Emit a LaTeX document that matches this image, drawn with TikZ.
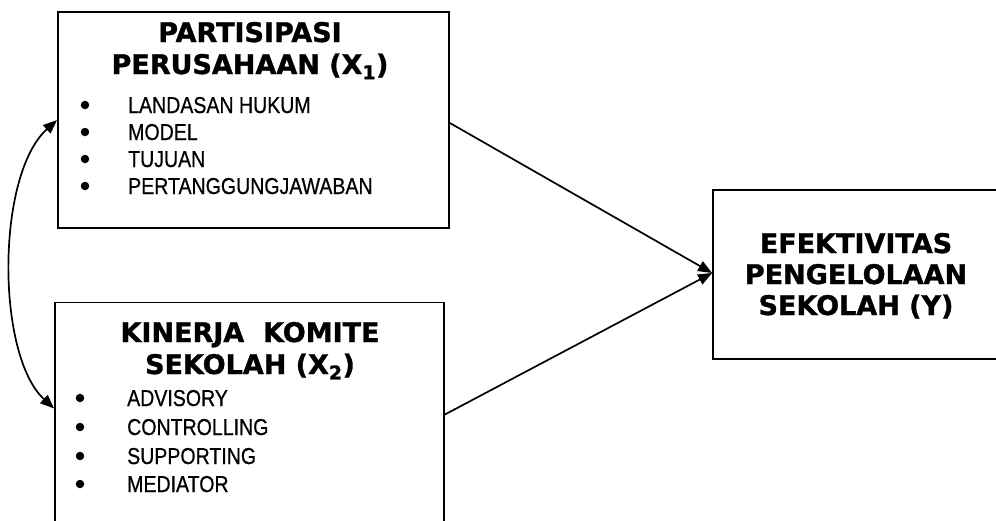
\documentclass[tikz,border=0pt]{standalone}
\usepackage{fontspec}
\setmainfont{Liberation Sans}
\newfontfamily\itemfont[FakeStretch=0.85,FakeBold=0.6]{Liberation Sans}
\newfontfamily\titlefont[FakeBold=1.2]{DejaVu Sans Bold}
\usetikzlibrary{arrows.meta}
\tikzset{
  box/.style={draw=black, line width=1.8, fill=none, inner sep=0},
  ttl/.style={font=\titlefont\fontsize{27}{31}\selectfont, anchor=base, inner sep=0},
  itm/.style={font=\itemfont\fontsize{23}{26}\selectfont, anchor=base west, inner sep=0},
  bul/.style={circle, fill=black, inner sep=0, minimum size=8.5},
  arr/.style={line width=1.7, -{Triangle[length=14,width=11]}},
  darr/.style={line width=1.7, {Triangle[length=14,width=11]}-{Triangle[length=14,width=11]}}
}
\begin{document}
\begin{tikzpicture}[x=1pt,y=-1pt]
\useasboundingbox (0,0) rectangle (996,520);
\fill[white] (0,0) rectangle (996,520);
\clip (0,0) rectangle (996,520);

% boxes
\node[box, minimum width=391, minimum height=216] (b1) at (253.5,120) {};
\node[box, minimum width=389, minimum height=240] (b2) at (249.5,422.5) {};
\node[box, minimum width=300, minimum height=169] (b3) at (863,274.5) {};

% box 1 text
\node[ttl] (t1a) at (250,42) {PARTISIPASI};
\node[ttl] (t1b) at (250,74) {PERUSAHAAN (X\textsubscript{1})};
\node[bul] (p1) at (85,105) {};
\node[bul] (p2) at (85,132) {};
\node[bul] (p3) at (85,159) {};
\node[bul] (p4) at (85,186) {};
\node[itm] (i1) at (128,113) {LANDASAN HUKUM};
\node[itm] (i2) at (128,140) {MODEL};
\node[itm] (i3) at (128,167) {TUJUAN};
\node[itm] (i4) at (128,194) {PERTANGGUNGJAWABAN};

% box 2 text
\node[ttl] (t2a) at (250,342) {KINERJA\ \ KOMITE};
\node[ttl] (t2b) at (250,374) {SEKOLAH (X\textsubscript{2})};
\node[bul] (q1) at (80,398) {};
\node[bul] (q2) at (80,427) {};
\node[bul] (q3) at (80,456) {};
\node[bul] (q4) at (80,484) {};
\node[itm] (j1) at (127,406) {ADVISORY};
\node[itm] (j2) at (127,435) {CONTROLLING};
\node[itm] (j3) at (127,464) {SUPPORTING};
\node[itm] (j4) at (127,492) {MEDIATOR};

% box 3 text
\node[ttl] (t3a) at (856,253) {EFEKTIVITAS};
\node[ttl] (t3b) at (856,284) {PENGELOLAAN};
\node[ttl] (t3c) at (856,315) {SEKOLAH (Y)};

% connectors
\coordinate (m) at ([yshift=1.5]b3.west);
\draw[arr] ([yshift=-3]b1.east) -- (m);
\draw[arr] ([yshift=8]b2.east) -- (m);
\draw[darr] (b1.west) .. controls (-4,175) and (-4,355) .. ([yshift=14]b2.west);
\end{tikzpicture}
\end{document}
